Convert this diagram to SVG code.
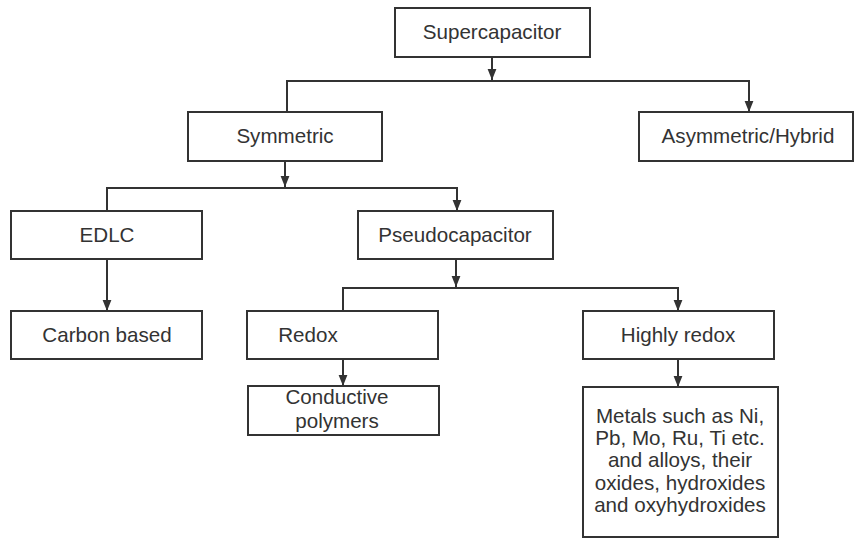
<svg xmlns="http://www.w3.org/2000/svg" width="855" height="539" viewBox="0 0 855 539">
<style>
.box{fill:#fff;stroke:#333;stroke-width:2}
.lbl{font-family:"Liberation Sans",Arial,sans-serif;font-size:20.6px;fill:#333;text-anchor:middle}
.ln{fill:none;stroke:#333;stroke-width:2}
</style>
<defs>
<marker id="ah" viewBox="0 0 10 10" refX="10" refY="5" markerWidth="11" markerHeight="11" markerUnits="userSpaceOnUse" orient="auto">
<path d="M0,1 L10,5 L0,9 Z" fill="#333"/>
</marker>
</defs>
<rect width="855" height="539" fill="#fff"/>
<g id="connectors">
<path class="ln" d="M492,57 V80" marker-end="url(#ah)"/>
<path class="ln" d="M287,112 V81 H749 V112" marker-start="url(#ah)" marker-end="url(#ah)"/>
<path class="ln" d="M285,161 V187" marker-end="url(#ah)"/>
<path class="ln" d="M107,211 V188 H457 V211" marker-start="url(#ah)" marker-end="url(#ah)"/>
<path class="ln" d="M107,259 V311" marker-end="url(#ah)"/>
<path class="ln" d="M456,259 V287" marker-end="url(#ah)"/>
<path class="ln" d="M343,311 V288 H678 V311" marker-start="url(#ah)" marker-end="url(#ah)"/>
<path class="ln" d="M343,359 V386" marker-end="url(#ah)"/>
<path class="ln" d="M678,359 V387" marker-end="url(#ah)"/>
</g>
<g id="supercapacitor"><rect class="box" x="395" y="8" width="195" height="49"/><text class="lbl" x="492" y="39">Supercapacitor</text></g>
<g id="symmetric"><rect class="box" x="188" y="112" width="194" height="49"/><text class="lbl" x="285" y="143">Symmetric</text></g>
<g id="asymmetric"><rect class="box" x="639" y="112" width="214" height="49"/><text class="lbl" x="748" y="143">Asymmetric/Hybrid</text></g>
<g id="edlc"><rect class="box" x="11" y="211" width="191" height="48"/><text class="lbl" x="107" y="242">EDLC</text></g>
<g id="pseudocapacitor"><rect class="box" x="358" y="211" width="195" height="48"/><text class="lbl" x="455" y="242">Pseudocapacitor</text></g>
<g id="carbon"><rect class="box" x="11" y="311" width="191" height="48"/><text class="lbl" x="107" y="342">Carbon based</text></g>
<g id="redox"><rect class="box" x="247" y="311" width="191" height="48"/><text class="lbl" x="308" y="342">Redox</text></g>
<g id="highly"><rect class="box" x="583" y="311" width="191" height="48"/><text class="lbl" x="678" y="342">Highly redox</text></g>
<g id="conductive"><rect class="box" x="248" y="386" width="191" height="49"/><text class="lbl" x="337" y="404">Conductive</text><text class="lbl" x="337" y="428">polymers</text></g>
<g id="metals"><rect class="box" x="583" y="387" width="195" height="150"/>
<text class="lbl" x="680" y="423">Metals such as Ni,</text>
<text class="lbl" x="680" y="445">Pb, Mo, Ru, Ti etc.</text>
<text class="lbl" x="680" y="467">and alloys, their</text>
<text class="lbl" x="680" y="490">oxides, hydroxides</text>
<text class="lbl" x="680" y="512">and oxyhydroxides</text>
</g>
</svg>
